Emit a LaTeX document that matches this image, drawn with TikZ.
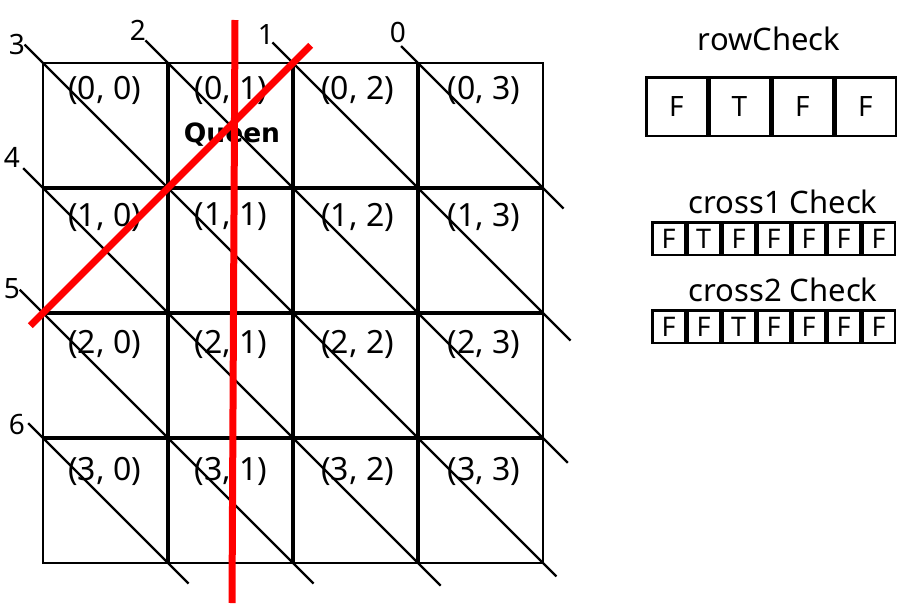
\documentclass[tikz,border=0pt]{standalone}
\usepackage{fontspec}
\setmainfont{Noto Sans}
\newfontfamily\queenface{DejaVu Sans}
\usetikzlibrary{positioning}
\newcommand{\cellfont}{\fontsize{32}{38}\selectfont}
\newcommand{\numfont}{\fontsize{28}{34}\selectfont}
\newcommand{\titlefont}{\fontsize{31}{37}\selectfont}
\newcommand{\queenfont}{\queenface\bfseries\fontsize{26.5}{32}\selectfont}
\definecolor{queenred}{RGB}{255,0,0}
\tikzset{
  every node/.style={
    inner sep=0pt
  },
  square/.style={
    draw, line width=2.5pt, font=\numfont
  },
  rowbox/.style={square, minimum width=60.5pt, minimum height=58.5pt},
  crossbox/.style={square, minimum size=32.5pt, font=\fontsize{27}{32}\selectfont},
  diag/.style={line width=2.2pt},
  attack/.style={queenred, line width=7pt}
}

\begin{document}
\begin{tikzpicture}[x=1pt,y=-1pt]
  \useasboundingbox (0,0) rectangle (908,603);
  % board corners
  \foreach \i in {0,...,4} {
    \coordinate (Top\i) at ({43+125*\i},63);
    \coordinate (Left\i) at (43,{63+125*\i});
    \coordinate (Right\i) at (543,{63+125*\i});
    \coordinate (Bottom\i) at ({43+125*\i},563);
  }
  \draw[line width=2.5pt] (Top0) rectangle (Bottom4);
  \foreach \i in {1,2,3} {
    \draw[line width=4.5pt] (Top\i) -- (Bottom\i);
    \draw[line width=4.5pt] (Left\i) -- (Right\i);
  }
  % diagonals
  \foreach \a/\b/\s/\e in {Top3/Right1/24/29, Top2/Right2/29/39,
                           Top1/Right3/32/35, Top0/Right4/26/19,
                           Left1/Bottom3/28/32, Left2/Bottom2/33/29,
                           Left3/Bottom1/21/29}
    \draw[diag, shorten <=-\s pt, shorten >=-\e pt] (\a) -- (\b);
  \foreach \k/\x/\y in {0/398/32, 1/266/35, 2/138/30, 3/17/45,
                        4/12/157, 5/12/289, 6/17/424}
    \node[font=\numfont] (Diag\k) at (\x,\y) {\k};
  % cell labels
  \foreach \r in {0,...,3}
    \foreach \c in {0,...,3}
      \node[font=\cellfont, anchor=west] (Cell\r\c) at ({68+126.5*\c},{90+127*\r}) {(\r, \c)};
  \node[font=\queenfont] (Queen) at (232,135) {Queen};
  % queen lines
  \coordinate (VTop) at (235,20);
  \coordinate (VBot) at (232,603);
  \draw[attack] (VTop) -- (VBot);
  \draw[attack, shorten <=-25pt, shorten >=-18pt] (Top2) -- (Left2);
  % check arrays
  \node[font=\titlefont] (RowTitle) at (769,39) {rowCheck};
  \node[rowbox] (Row0) at (676.5,106.5) {F};
  \foreach \v [count=\i] in {T,F,F} {
    \pgfmathtruncatemacro\p{\i-1}
    \node[rowbox, right=0pt of Row\p] (Row\i) {\v};
  }
  \node[font=\titlefont] (CrossATitle) at (783,202) {cross1 Check};
  \node[crossbox] (CrossA0) at (668.5,238.5) {F};
  \foreach \v [count=\i] in {T,F,F,F,F,F} {
    \pgfmathtruncatemacro\p{\i-1}
    \node[crossbox, right=0pt of CrossA\p] (CrossA\i) {\v};
  }
  \node[font=\titlefont] (CrossBTitle) at (783,290) {cross2 Check};
  \node[crossbox] (CrossB0) at (668.5,326.5) {F};
  \foreach \v [count=\i] in {F,T,F,F,F,F} {
    \pgfmathtruncatemacro\p{\i-1}
    \node[crossbox, right=0pt of CrossB\p] (CrossB\i) {\v};
  }
\end{tikzpicture}
\end{document}
